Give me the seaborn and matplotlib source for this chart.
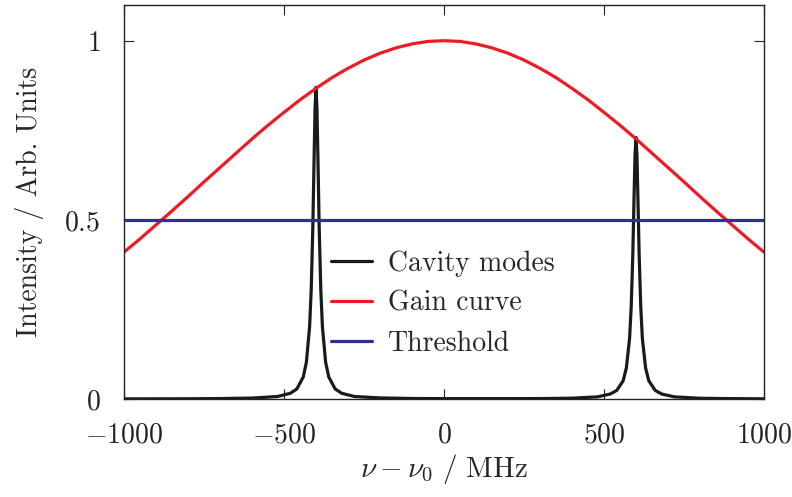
import numpy as np
import pandas as pd
import seaborn as sns
import matplotlib.pyplot as plt

# detuning from line centre (MHz) and values
gain_freq = [-1000, -950, -900, -850, -800, -750, -700, -650, -600, -550, -500,
             -450, -400, -350, -300, -250, -200, -150, -100, -50, 0,
             50, 100, 150, 200, 250, 300, 350, 400, 450, 500,
             550, 600, 650, 700, 750, 800, 850, 900, 950, 1000]
gain_vals = [0.410, 0.447, 0.486, 0.525, 0.565, 0.606, 0.646, 0.686, 0.726, 0.764, 0.800,
             0.835, 0.867, 0.897, 0.923, 0.946, 0.965, 0.980, 0.991, 0.998, 1.000,
             0.998, 0.991, 0.980, 0.965, 0.946, 0.923, 0.897, 0.867, 0.835, 0.800,
             0.764, 0.726, 0.686, 0.646, 0.606, 0.565, 0.525, 0.486, 0.447, 0.410]

mode_freq = [-1000, -800, -700, -600, -520, -480, -460, -440, -430, -420, -415, -410,
             -406, -403, -400, -397, -394, -390, -385, -380, -370, -360, -340, -320,
             -280, -200, -100, 0, 100, 200, 300, 400, 480, 520, 540, 560, 570, 580,
             585, 590, 594, 597, 600, 603, 606, 610, 615, 620, 630, 640, 660, 680,
             720, 800, 900, 1000]
mode_vals = [0.0003, 0.0006, 0.0012, 0.0026, 0.007, 0.016, 0.028, 0.061, 0.103, 0.202, 0.305, 0.477,
             0.671, 0.810, 0.870, 0.810, 0.671, 0.477, 0.305, 0.202, 0.103, 0.061, 0.028, 0.016,
             0.007, 0.003, 0.0014, 0.001, 0.001, 0.001, 0.0012, 0.0022, 0.006, 0.014, 0.024, 0.051, 0.087, 0.169,
             0.256, 0.400, 0.563, 0.680, 0.730, 0.680, 0.563, 0.400, 0.256, 0.169, 0.087, 0.051, 0.024, 0.014,
             0.006, 0.002, 0.001, 0.0005]

thresh_freq = [-1000, 1000]
thresh_vals = [0.5, 0.5]

xticks = [-1000, -500, 0, 500, 1000]
xtick_labels = ['$-1000$', '$-500$', '$0$', '$500$', '$1000$']
yticks = [0, 0.5, 1]
ytick_labels = ['$0$', '$0.5$', '$1$']

sns.set_style('ticks')
plt.rcParams['font.family'] = ['serif']
plt.rcParams['font.serif'] = ['cmr10', 'DejaVu Serif']
plt.rcParams['mathtext.fontset'] = 'cm'
plt.rcParams['axes.unicode_minus'] = False

fig = plt.figure(figsize=(7.92, 4.97), dpi=100)
ax = fig.add_axes([0.1566, 0.1972, 0.808, 0.793])

sns.lineplot(x=mode_freq, y=mode_vals, ax=ax, color='#1a1a1a', lw=2.3, label='Cavity modes')
sns.lineplot(x=gain_freq, y=gain_vals, ax=ax, color='#ed1c24', lw=2.3, label='Gain curve')
sns.lineplot(x=thresh_freq, y=thresh_vals, ax=ax, color='#2e3192', lw=2.3, label='Threshold')

ax.set_xlim(-1000, 1000)
ax.set_ylim(0, 1.1)
ax.set_xticks(xticks)
ax.set_xticklabels(xtick_labels)
ax.set_yticks(yticks)
ax.set_yticklabels(ytick_labels)
ax.tick_params(direction='in', top=True, right=True, length=7, width=0.8,
               labelsize=20, colors='#222222')
ax.tick_params(axis='x', pad=17)
ax.tick_params(axis='y', pad=17)
for s in ax.spines.values():
    s.set_linewidth(1.0)
    s.set_color('#222222')

ax.set_xlabel(r'$\nu - \nu_0\ /\ \mathrm{MHz}$', fontsize=21, labelpad=2)
ax.set_ylabel('Intensity / Arb. Units', fontsize=20, labelpad=15)

ax.legend(loc='upper left', bbox_to_anchor=(0.298, 0.42), frameon=False,
          fontsize=20, handlelength=1.45, labelspacing=0.5, handletextpad=0.6,
          borderaxespad=0.2)

fig.savefig('out.png', dpi=100)
